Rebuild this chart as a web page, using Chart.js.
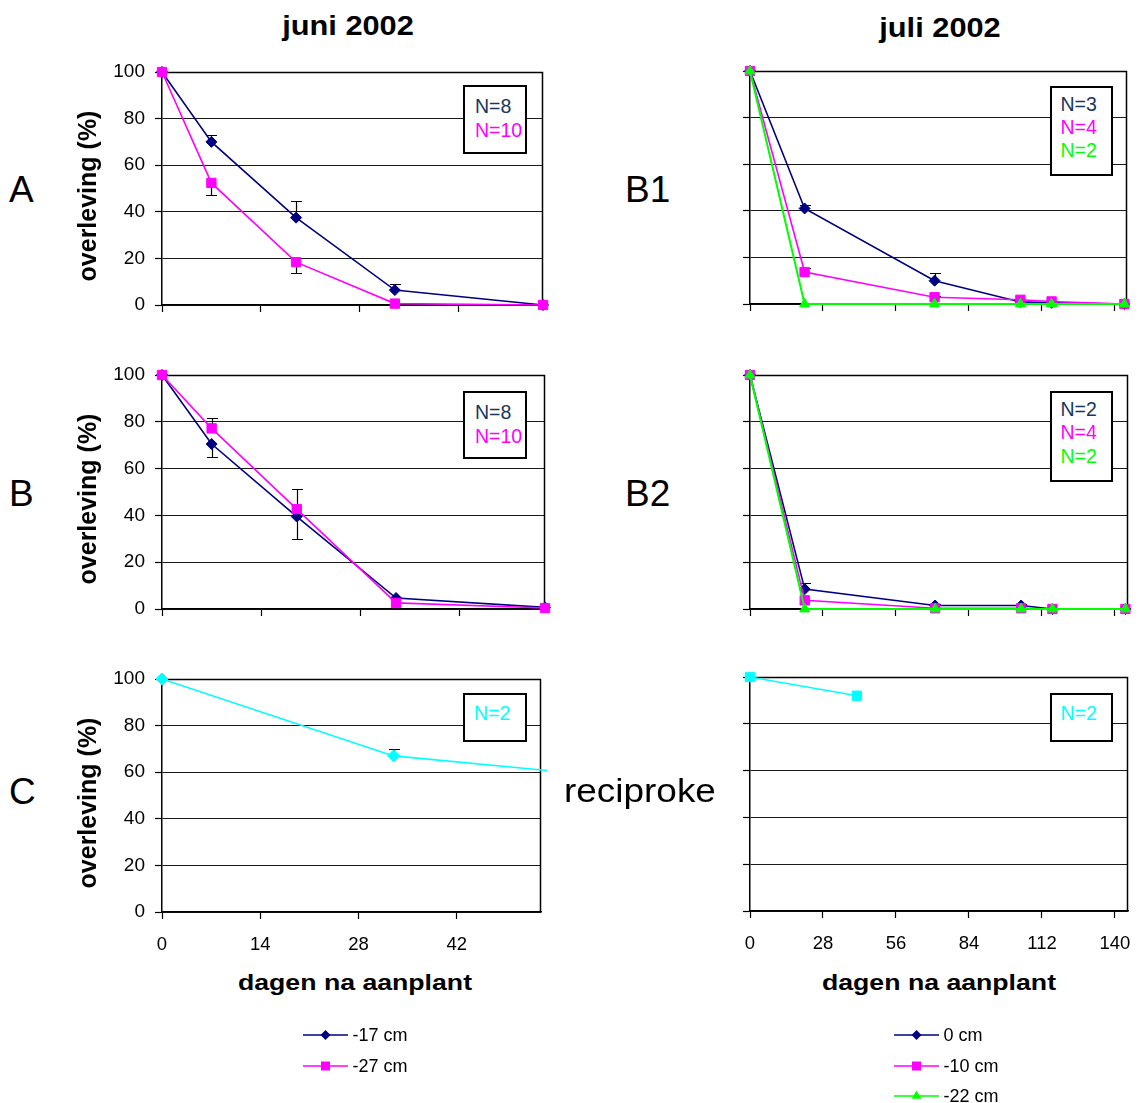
<!DOCTYPE html>
<html>
<head>
<meta charset="utf-8">
<title>Overleving juni / juli 2002</title>
<script src="https://cdn.jsdelivr.net/npm/chart.js@4.4.1/dist/chart.umd.min.js"></script>
<style>
  html, body { margin: 0; padding: 0; background: #fff; }
  body { width: 1143px; height: 1103px; position: relative; overflow: hidden;
         font-family: "Liberation Sans", Arial, sans-serif; }
  canvas { position: absolute; }
  .txt { position: absolute; white-space: nowrap; line-height: 1; color: #000; }
  .nbox { position: absolute; border: 2px solid #000; box-sizing: border-box; background: #fff; }
</style>
</head>
<body>
<script>
// ---- axes ----
const yTicks = [0, 20, 40, 60, 80, 100];
const xTicksJuni = [0, 14, 28, 42];
const xTicksJuli = [0, 28, 56, 84, 112, 140];

// ---- sampling days ----
const daysJuni = [0, 7, 19, 33, 54];
const daysJuli = [0, 21, 71, 104, 116, 144];
const daysJuniC = [0, 33, 61];
const daysJuliRecip = [0, 41];

// ---- juni 2002, A ----
const A_min17 = [100, 70, 37.5, 6.4, 0];
const A_min17_errUp = [0, 3, 7, 2.5, 0];
const A_min27 = [100, 52.4, 18.4, 0.6, 0];
const A_min27_errDown = [0, 5, 4.5, 0, 0];

// ---- juni 2002, B ----
const B_min17 = [100, 70.5, 39.5, 4.7, 0.7];
const B_min17_errDown = [0, 5.6, 9.6, 0, 0];
const B_min27 = [100, 77.2, 42.7, 2.6, 0.4];
const B_min27_errUp = [0, 4.6, 8.5, 0, 0];

// ---- juni 2002, C ----
const C_vals = [100, 67, 59];
const C_errUp = [0, 3.1, 0];

// ---- juli 2002, B1 ----
const B1_0 = [100, 41, 10, 0.9, 0.5, 0];
const B1_0_errUp = [0, 1.5, 3.3, 0.6, 0.5, 0];
const B1_min10 = [100, 13.7, 2.9, 1.8, 1.1, 0];
const B1_min10_errUp = [0, 1.7, 0.5, 0.5, 0.3, 0];
const B1_min22 = [100, 0, 0, 0, 0, 0];

// ---- juli 2002, B2 ----
const B2_0 = [100, 8.5, 1.5, 1.5, 0, 0];
const B2_0_errUp = [0, 2.6, 0.6, 0.6, 0, 0];
const B2_min10 = [100, 3.7, 0.3, 0.3, 0, 0];
const B2_min10_errDown = [0, 3.3, 0, 0, 0, 0];
const B2_min22 = [100, 0, 0, 0, 0, 0];

// ---- juli 2002, reciproke ----
const R_vals = [100, 92];

// ---- colours ----
const NAVY = '#000080', MAGENTA = '#FF00FF', GREEN = '#00FF00', CYAN = '#00FFFF';
const NTEXT = '#17365D';

const FONT = '"Liberation Sans", Arial, sans-serif';

function pts(days, vals) { return days.map((d, i) => ({ x: d, y: vals[i] })); }

const MARK = {
  diamond: { pointStyle: 'rectRot', pointRadius: 5.5 },
  square:  { pointStyle: 'rect', pointRadius: 6.6 },
  triangle:{ pointStyle: 'triangle', pointRadius: 5.8 }
};

function series(days, vals, color, mark, extra) {
  return Object.assign({
    data: pts(days, vals),
    borderColor: color,
    backgroundColor: color,
    pointBackgroundColor: color,
    pointBorderColor: color,
    pointBorderWidth: 1,
    borderWidth: 1.6,
    tension: 0,
    clip: 8
  }, MARK[mark], extra || {});
}

// frame around the plot area (top and right edges)
const framePlugin = {
  id: 'frame',
  beforeDatasetsDraw(chart) {
    const a = chart.chartArea, ctx = chart.ctx;
    ctx.save();
    ctx.strokeStyle = '#000';
    ctx.lineWidth = 1.5;
    ctx.beginPath();
    ctx.moveTo(a.left, a.top + 0.5);
    ctx.lineTo(a.right - 0.5, a.top + 0.5);
    ctx.lineTo(a.right - 0.5, a.bottom);
    ctx.stroke();
    ctx.restore();
  }
};

// one-sided error bars read from dataset.errUp / dataset.errDown
const errorBarPlugin = {
  id: 'errorBars',
  beforeDatasetsDraw(chart) {
    const ctx = chart.ctx, xs = chart.scales.x, ys = chart.scales.y;
    ctx.save();
    ctx.strokeStyle = '#000';
    ctx.lineWidth = 1.2;
    chart.data.datasets.forEach(ds => {
      ds.data.forEach((p, i) => {
        [[ds.errUp, 1], [ds.errDown, -1]].forEach(([arr, sgn]) => {
          if (!arr || !arr[i]) return;
          const x = Math.round(xs.getPixelForValue(p.x)) + 0.5;
          const y0 = ys.getPixelForValue(p.y);
          const y1 = Math.round(ys.getPixelForValue(p.y + sgn * arr[i])) + 0.5;
          ctx.beginPath();
          ctx.moveTo(x, y0); ctx.lineTo(x, y1);
          ctx.moveTo(x - 5.5, y1); ctx.lineTo(x + 5.5, y1);
          ctx.stroke();
        });
      });
    });
    ctx.restore();
  }
};

function makePanel(rect, datasets, o) {
  const padL = 62, padT = 24, padR = 24, axisH = 44;
  const W = padL + (rect.r - rect.l) + padR;
  const H = padT + (rect.b - rect.t) + axisH;
  const c = document.createElement('canvas');
  c.width = W; c.height = H;
  c.style.left = (rect.l - padL) + 'px';
  c.style.top = (rect.t - padT) + 'px';
  c.style.width = W + 'px'; c.style.height = H + 'px';
  document.body.appendChild(c);
  new Chart(c, {
    type: 'line',
    data: { datasets },
    options: {
      responsive: false,
      animation: false,
      events: [],
      layout: { padding: { top: padT, right: padR, left: 0, bottom: 0 } },
      plugins: { legend: { display: false }, tooltip: { enabled: false } },
      scales: {
        x: {
          type: 'linear', min: 0, max: o.xMax,
          afterFit: s => { s.height = axisH; },
          afterBuildTicks: s => { s.ticks = o.xTicks.map(v => ({ value: v })); },
          ticks: { display: o.showX, color: '#000', font: { family: FONT, size: 18.5 },
                   padding: 15, maxRotation: 0, autoSkip: false },
          grid: { drawOnChartArea: false, drawTicks: true, tickLength: 7,
                  tickColor: '#000', tickWidth: 1.2 },
          border: { color: '#000', width: 1.5 }
        },
        y: {
          min: 0, max: 100,
          afterFit: s => { s.width = padL; },
          afterBuildTicks: s => { s.ticks = yTicks.map(v => ({ value: v })); },
          ticks: { display: o.showY, color: '#000', font: { family: FONT, size: 19 }, padding: 10 },
          grid: { color: '#1a1a1a', lineWidth: 1, tickLength: 7, tickColor: '#000', tickWidth: 1.2 },
          border: { color: '#000', width: 1.5 }
        }
      }
    },
    plugins: [framePlugin, errorBarPlugin]
  });
}

// ---- juni 2002 ----
makePanel({ l: 162, t: 72, r: 543, b: 305 }, [
  series(daysJuni, A_min27, MAGENTA, 'square', { errDown: A_min27_errDown, order: 0 }),
  series(daysJuni, A_min17, NAVY, 'diamond', { errUp: A_min17_errUp, order: 1 })
], { xMax: 54, xTicks: xTicksJuni, showX: false, showY: true });

makePanel({ l: 162, t: 375, r: 545, b: 609 }, [
  series(daysJuni, B_min27, MAGENTA, 'square', { errUp: B_min27_errUp, order: 0 }),
  series(daysJuni, B_min17, NAVY, 'diamond', { errDown: B_min17_errDown, order: 1 })
], { xMax: 54, xTicks: xTicksJuni, showX: false, showY: true });

makePanel({ l: 162, t: 679, r: 541, b: 912 }, [
  series(daysJuniC, C_vals, CYAN, 'diamond', { errUp: C_errUp, pointRadius: 6,
         clip: { left: 8, top: 8, right: 6, bottom: 8 } })
], { xMax: 54, xTicks: xTicksJuni, showX: true, showY: true });

// ---- juli 2002 ----
makePanel({ l: 750, t: 71, r: 1127, b: 304 }, [
  series(daysJuli, B1_min22, GREEN, 'triangle', { order: 0, borderWidth: 2 }),
  series(daysJuli, B1_min10, MAGENTA, 'square', { errUp: B1_min10_errUp, order: 1 }),
  series(daysJuli, B1_0, NAVY, 'diamond', { errUp: B1_0_errUp, order: 2 })
], { xMax: 145, xTicks: xTicksJuli, showX: false, showY: false });

makePanel({ l: 750, t: 375, r: 1128, b: 609 }, [
  series(daysJuli, B2_min22, GREEN, 'triangle', { order: 0, borderWidth: 2 }),
  series(daysJuli, B2_min10, MAGENTA, 'square', { errDown: B2_min10_errDown, order: 1 }),
  series(daysJuli, B2_0, NAVY, 'diamond', { errUp: B2_0_errUp, order: 2 })
], { xMax: 145, xTicks: xTicksJuli, showX: false, showY: false });

makePanel({ l: 750, t: 677, r: 1128, b: 911 }, [
  series(daysJuliRecip, R_vals, CYAN, 'square', {})
], { xMax: 145, xTicks: xTicksJuli, showX: true, showY: false });

// ---- text ----
function addText(str, o) {
  const d = document.createElement('div');
  d.className = 'txt';
  d.textContent = str;
  d.style.fontSize = o.size + 'px';
  d.style.fontWeight = o.bold ? 'bold' : 'normal';
  if (o.color) d.style.color = o.color;
  const sx = o.sx || 1;
  if (o.rotate) {
    d.style.left = o.x + 'px';
    d.style.top = o.y + 'px';
    d.style.transform = 'translate(-50%,-50%) rotate(-90deg)';
  } else {
    d.style.top = (o.baseline - 0.8465 * o.size) + 'px';
    d.style.left = o.x + 'px';
    if (o.align === 'center') {
      d.style.transformOrigin = 'center';
      d.style.transform = 'translateX(-50%) scaleX(' + sx + ')';
    } else {
      d.style.transformOrigin = 'left';
      d.style.transform = 'scaleX(' + sx + ')';
    }
  }
  document.body.appendChild(d);
  return d;
}

addText('juni 2002', { x: 348, baseline: 36, size: 27, bold: true, align: 'center', sx: 1.14 });
addText('juli 2002', { x: 940, baseline: 38, size: 27, bold: true, align: 'center', sx: 1.14 });

[195.8, 499.3, 802.8].forEach(cy =>
  addText('overleving (%)', { x: 87, y: cy, size: 25, bold: true, rotate: true }));

addText('dagen na aanplant', { x: 355, baseline: 991, size: 21.5, bold: true, align: 'center', sx: 1.24 });
addText('dagen na aanplant', { x: 939, baseline: 991, size: 21.5, bold: true, align: 'center', sx: 1.24 });

addText('A', { x: 9, baseline: 202.3, size: 37 });
addText('B', { x: 9, baseline: 506, size: 37 });
addText('C', { x: 9, baseline: 804, size: 37 });
addText('B1', { x: 625, baseline: 202.3, size: 37 });
addText('B2', { x: 625, baseline: 506, size: 37 });
addText('reciproke', { x: 564, baseline: 802.7, size: 32.7, sx: 1.13 });

// ---- N boxes ----
function nbox(l, t, w, h, lines, textLeft, firstBase, gap, size) {
  const b = document.createElement('div');
  b.className = 'nbox';
  b.style.left = l + 'px'; b.style.top = t + 'px';
  b.style.width = w + 'px'; b.style.height = h + 'px';
  document.body.appendChild(b);
  lines.forEach((ln, i) => addText(ln[0], { x: textLeft, baseline: firstBase + i * gap, size: size, color: ln[1] }));
}
nbox(463, 85, 64, 69, [['N=8', NTEXT], ['N=10', MAGENTA]], 475, 113.6, 24.3, 19.5);
nbox(463, 391, 64, 68, [['N=8', NTEXT], ['N=10', MAGENTA]], 475, 419.6, 24.3, 19.5);
nbox(463, 693, 64, 49, [['N=2', CYAN]], 474, 720.7, 0, 19.5);
nbox(1050, 86, 63, 90, [['N=3', NTEXT], ['N=4', MAGENTA], ['N=2', GREEN]], 1060.5, 111.3, 23.3, 19.5);
nbox(1050, 391, 63, 91, [['N=2', NTEXT], ['N=4', MAGENTA], ['N=2', GREEN]], 1060.5, 416.6, 23.3, 19.5);
nbox(1050, 693, 63, 49, [['N=2', CYAN]], 1060.5, 720.7, 0, 19.5);

// ---- legends ----
function legendBlock(x0, rows) {
  rows.forEach(r => {
    const c = document.createElement('canvas');
    c.width = 50; c.height = 20;
    c.style.left = x0 + 'px'; c.style.top = (r.y - 10) + 'px';
    c.style.width = '50px'; c.style.height = '20px';
    document.body.appendChild(c);
    const ctx = c.getContext('2d');
    ctx.strokeStyle = r.color; ctx.fillStyle = r.color; ctx.lineWidth = 1.6;
    ctx.beginPath(); ctx.moveTo(0, 10); ctx.lineTo(45, 10); ctx.stroke();
    const mx = 22.5, my = 10;
    ctx.beginPath();
    if (r.mark === 'diamond') {
      ctx.moveTo(mx, my - 5); ctx.lineTo(mx + 5, my); ctx.lineTo(mx, my + 5); ctx.lineTo(mx - 5, my);
    } else if (r.mark === 'square') {
      ctx.rect(mx - 4.5, my - 4.5, 9, 9);
    } else {
      ctx.moveTo(mx, my - 5.6); ctx.lineTo(mx + 4.9, my + 2.8); ctx.lineTo(mx - 4.9, my + 2.8);
    }
    ctx.closePath(); ctx.fill();
    addText(r.label, { x: x0 + 49.5, baseline: r.y + 6.4, size: 18 });
  });
}
legendBlock(303, [
  { y: 1035, color: NAVY, mark: 'diamond', label: '-17 cm' },
  { y: 1065.7, color: MAGENTA, mark: 'square', label: '-27 cm' }
]);
legendBlock(894, [
  { y: 1035, color: NAVY, mark: 'diamond', label: '0 cm' },
  { y: 1066, color: MAGENTA, mark: 'square', label: '-10 cm' },
  { y: 1096, color: GREEN, mark: 'triangle', label: '-22 cm' }
]);
</script>
</body>
</html>
